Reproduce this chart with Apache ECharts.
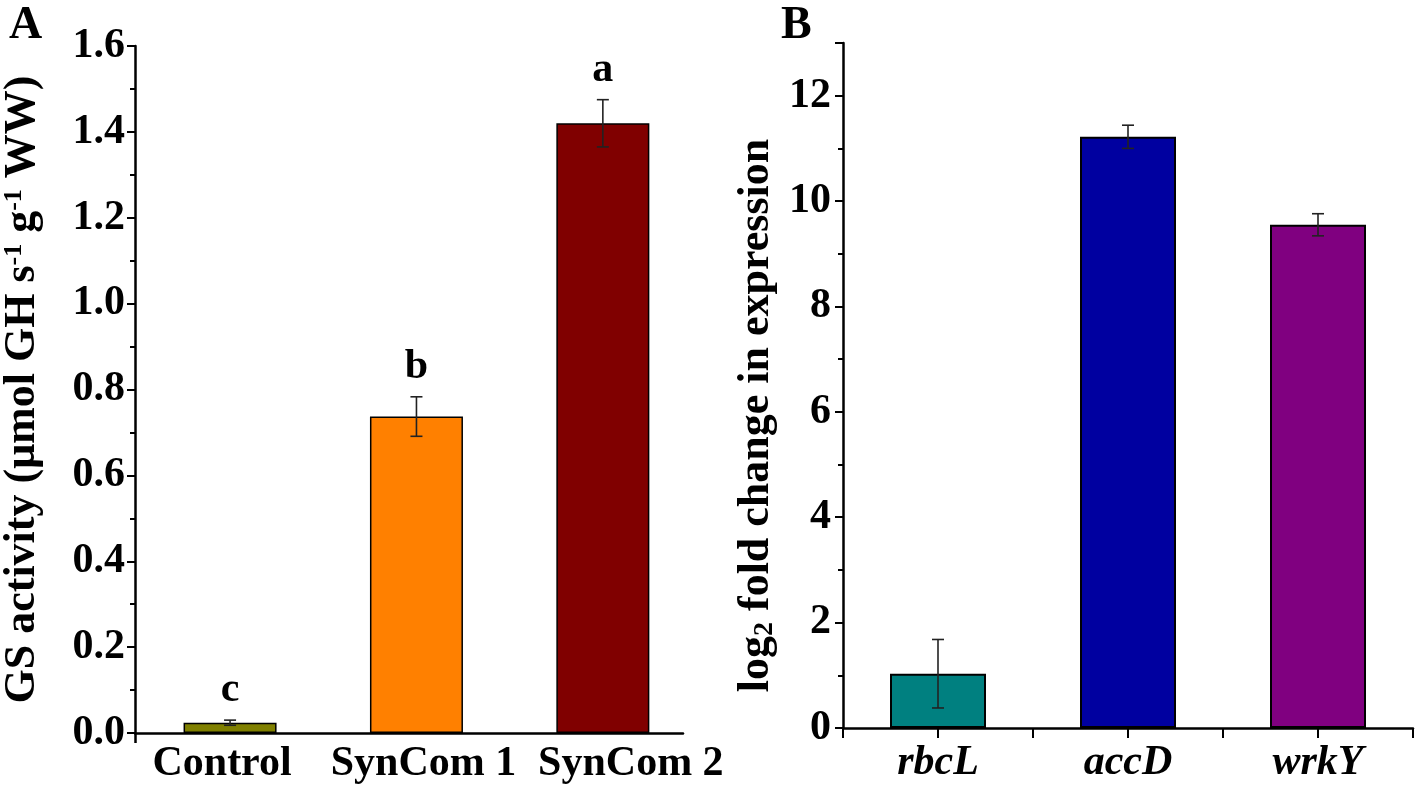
<!DOCTYPE html>
<html>
<head>
<meta charset="utf-8">
<script src="https://cdn.jsdelivr.net/npm/echarts@6/dist/echarts.min.js"></script>
<style>
  html, body { margin: 0; padding: 0; background: #fff; }
  #main { width: 1417px; height: 786px; }
</style>
</head>
<body>
<div id="main"></div>
<script>
// panel A data
const catsA = ['Control', 'SynCom 1', 'SynCom 2'];
const meanA = [0.024, 0.737, 1.42];
const errA = [0.006, 0.046, 0.055];
const lettersA = ['c', 'b', 'a'];
const colorsA = ['#808000', '#FF8000', '#800000'];

// panel B data
const genesB = ['rbcL', 'accD', 'wrkY'];
const meanB = [1.03, 11.22, 9.55];
const errB = [0.65, 0.22, 0.21];
const colorsB = ['#008080', '#0000A0', '#800080'];

const FONT = '"Liberation Serif", "Times New Roman", serif';

let chart = echarts.init(document.getElementById('main'));

// error bar + optional letter above it
function errRender(letters) {
    return function (params, api) {
        let x = api.value(0), m = api.value(1), e = api.value(2);
        let top = api.coord([x, m + e]);
        let bot = api.coord([x, m - e]);
        let hw = 6;
        let st = { stroke: '#222', lineWidth: 1.6 };
        let children = [
            { type: 'line', shape: { x1: top[0], y1: top[1], x2: bot[0], y2: bot[1] }, style: st },
            { type: 'line', shape: { x1: top[0] - hw, y1: top[1], x2: top[0] + hw, y2: top[1] }, style: st },
            { type: 'line', shape: { x1: bot[0] - hw, y1: bot[1], x2: bot[0] + hw, y2: bot[1] }, style: st }
        ];
        if (letters) {
            children.push({
                type: 'text',
                style: {
                    text: letters[params.dataIndex],
                    x: top[0], y: top[1] - 30,
                    align: 'center', verticalAlign: 'middle',
                    font: 'bold 42px ' + FONT, fill: '#000'
                }
            });
        }
        return { type: 'group', children: children };
    };
}

const axisLineStyle = { color: '#000', width: 2.5 };
const labelA = { fontFamily: FONT, fontWeight: 'bold', fontSize: 42, color: '#000' };

let option = {
    animation: false,
    title: [
        { text: 'A', left: 4, top: -2, textStyle: { fontFamily: FONT, fontWeight: 'bold', fontSize: 46, color: '#000' } },
        { text: 'B', left: 776, top: -2, textStyle: { fontFamily: FONT, fontWeight: 'bold', fontSize: 46, color: '#000' } }
    ],
    grid: [
        { left: 133, top: 46, width: 550, height: 687 },
        { left: 843, top: 43, width: 570, height: 685 }
    ],
    xAxis: [
        {
            gridIndex: 0, type: 'value', min: 0.49, max: 3.43,
            splitLine: { show: false },
            axisLine: { lineStyle: axisLineStyle },
            axisTick: { show: true, customValues: [0.49], length: 10, lineStyle: { width: 2.5, color: '#000' } },
            axisLabel: {
                customValues: [1, 2, 3],
                // the printed labels sit a little off their bars
                formatter: v => '{l' + Math.round(v) + '|' + catsA[Math.round(v) - 1] + '}',
                margin: 10,
                rich: {
                    l1: Object.assign({ padding: [0, 16, 0, 0] }, labelA),
                    l2: Object.assign({ padding: [0, 0, 0, 14] }, labelA),
                    l3: Object.assign({ padding: [0, 0, 0, 56] }, labelA)
                }
            }
        },
        {
            gridIndex: 1, type: 'value', min: 0, max: 6, interval: 1,
            splitLine: { show: false },
            axisLine: { lineStyle: axisLineStyle },
            axisTick: { show: true, length: 10, lineStyle: { width: 2, color: '#000' } },
            axisLabel: {
                formatter: v => (v % 2 === 1 ? genesB[(v - 1) / 2] : ''),
                fontFamily: FONT, fontWeight: 'bold', fontStyle: 'italic', fontSize: 42, color: '#000', margin: 14
            }
        }
    ],
    yAxis: [
        {
            gridIndex: 0, type: 'value', min: 0, max: 1.6, interval: 0.2,
            splitLine: { show: false },
            axisLine: { show: true, lineStyle: axisLineStyle },
            axisTick: { show: true, length: 8, lineStyle: { width: 2, color: '#000' } },
            minorTick: { show: true, splitNumber: 2, length: 5, lineStyle: { width: 2, color: '#000' } },
            axisLabel: {
                formatter: v => v.toFixed(1),
                fontFamily: FONT, fontWeight: 'bold', fontSize: 42, color: '#000', margin: 10
            },
            name: 'GS activity (μmol GH s{sup|-1} g{sup|-1} WW)',
            nameLocation: 'middle', nameRotate: 90, nameGap: 90,
            nameTextStyle: {
                fontFamily: FONT, fontWeight: 'bold', fontSize: 44, color: '#000',
                rich: { sup: { fontFamily: FONT, fontWeight: 'bold', fontSize: 26, color: '#000', verticalAlign: 'top' } }
            }
        },
        {
            gridIndex: 1, type: 'value', min: 0, max: 13, interval: 2,
            splitLine: { show: false },
            axisLine: { show: true, lineStyle: axisLineStyle },
            axisTick: { show: true, length: 8, lineStyle: { width: 2, color: '#000' } },
            minorTick: { show: true, splitNumber: 2, length: 5, lineStyle: { width: 2, color: '#000' } },
            axisLabel: {
                showMaxLabel: false,
                fontFamily: FONT, fontWeight: 'bold', fontSize: 42, color: '#000', margin: 12
            },
            name: 'log{sub|2} fold change in expression',
            nameLocation: 'middle', nameRotate: 90, nameGap: 64,
            nameTextStyle: {
                fontFamily: FONT, fontWeight: 'bold', fontSize: 44, color: '#000',
                padding: [0, 60, 0, 0],
                rich: { sub: { fontFamily: FONT, fontWeight: 'bold', fontSize: 28, color: '#000', verticalAlign: 'bottom' } }
            }
        }
    ],
    series: [
        {
            type: 'bar', xAxisIndex: 0, yAxisIndex: 0, barWidth: 93,
            itemStyle: { borderColor: '#000', borderWidth: 1.5 },
            data: meanA.map((v, i) => ({ value: [i + 1, v], itemStyle: { color: colorsA[i] } }))
        },
        {
            type: 'custom', xAxisIndex: 0, yAxisIndex: 0,
            renderItem: errRender(lettersA),
            data: meanA.map((v, i) => [i + 1, v, errA[i]]),
            z: 5
        },
        {
            type: 'bar', xAxisIndex: 1, yAxisIndex: 1, barWidth: 96,
            itemStyle: { borderColor: '#000', borderWidth: 2 },
            data: meanB.map((v, i) => ({ value: [2 * i + 1, v], itemStyle: { color: colorsB[i] } }))
        },
        {
            type: 'custom', xAxisIndex: 1, yAxisIndex: 1,
            renderItem: errRender(null),
            data: meanB.map((v, i) => [2 * i + 1, v, errB[i]]),
            z: 5
        }
    ]
};
chart.setOption(option);
</script>
</body>
</html>
